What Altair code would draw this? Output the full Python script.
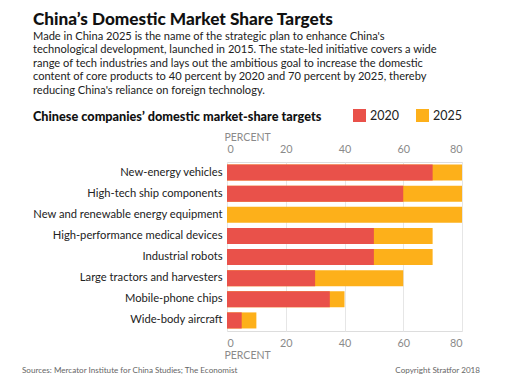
import altair as alt
import pandas as pd

categories = [
    "New-energy vehicles",
    "High-tech ship components",
    "New and renewable energy equipment",
    "High-performance medical devices",
    "Industrial robots",
    "Large tractors and harvesters",
    "Mobile-phone chips",
    "Wide-body aircraft",
]
target_2020 = [70, 60, None, 50, 50, 30, 35, 5]
target_2025 = [80, 80, 80, 70, 70, 60, 40, 10]
years = ["2020", "2025"]
colors = ["#E9514A", "#FDB01A"]
x_ticks = [0, 20, 40, 60, 80]

title_text = "China’s Domestic Market Share Targets"
subtitle_lines = [
    "Made in China 2025 is the name of the strategic plan to enhance China's",
    "technological development, launched in 2015. The state-led initiative covers a wide",
    "range of tech industries and lays out the ambitious goal to increase the domestic",
    "content of core products to 40 percent by 2020 and 70 percent by 2025, thereby",
    "reducing China's reliance on foreign technology.",
]
header_text = "Chinese companies’ domestic market-share targets"
source_text = "Sources: Mercator Institute for China Studies; The Economist"
copyright_text = "Copyright Stratfor 2018"

rows = []
for c, v in zip(categories, target_2025):
    rows.append({"category": c, "year": "2025", "value": v})
for c, v in zip(categories, target_2020):
    if v is not None:
        rows.append({"category": c, "year": "2020", "value": v})
df = pd.DataFrame(rows)

FONT = "Lato"
GREY = "#8a8a8a"
x_scale = alt.Scale(domain=[0, 80], nice=False)
y_enc = alt.Y(
    "category:N",
    sort=categories,
    scale=alt.Scale(paddingInner=0.24, paddingOuter=0.12),
    axis=alt.Axis(
        title=None, ticks=False, domain=False, labelPadding=5,
        labelFontSize=11.2, labelColor="#222222", labelLimit=260, labelFont=FONT,
    ),
)

def x_axis(orient, label_pad, title_pad, grid):
    return alt.Axis(
        orient=orient, values=x_ticks, title="PERCENT", ticks=False, domain=False,
        grid=grid, gridColor="#e6e6e6", gridWidth=1,
        labelFontSize=10.8, labelColor=GREY, labelPadding=label_pad, labelFont=FONT,
        titleFontSize=10.5, titleFontWeight="normal", titleColor=GREY,
        titleAnchor="start", titleAlign="left", titleX=-3, titlePadding=title_pad, titleFont=FONT,
    )

bars = alt.Chart(df).mark_bar().encode(
    y=y_enc,
    x=alt.X("value:Q", stack=None, scale=x_scale, axis=x_axis("bottom", 6, 3, True)),
    color=alt.Color(
        "year:N",
        scale=alt.Scale(domain=years, range=colors),
        legend=alt.Legend(
            title=None, orient="none", direction="horizontal", legendX=126, legendY=-53,
            symbolType="square", symbolSize=169, symbolStrokeWidth=0,
            labelFontSize=12.5, labelColor="#222222", labelFont=FONT, columnPadding=17,
        ),
    ),
)

top_axis = alt.Chart(df).mark_point(opacity=0).encode(
    y=alt.Y("category:N", sort=categories),
    x=alt.X("value:Q", scale=x_scale, axis=x_axis("top", 8, 0.5, False)),
)

one = pd.DataFrame({"k": [0]})

def text_layer(text, x, y, size, weight="normal", color="#222222", align="left", line_height=None):
    kw = dict(text=text, align=align, baseline="alphabetic", font=FONT, fontSize=size,
              fontWeight=weight, color=color)
    if line_height is not None:
        kw["lineHeight"] = line_height
    return alt.Chart(one).mark_text(**kw).encode(x=alt.value(x), y=alt.value(y))

title_l = text_layer(title_text, -194, -137, 17.2, weight=900, color="#111111")
sub_l = text_layer(subtitle_lines, -194, -122.2, 11.1, color="#222222", line_height=13.55)
head_l = text_layer(header_text, -194, -41, 12.7, weight=900, color="#111111")
src_l = text_layer(source_text, -205, 211, 8.1, color="#666666")
copy_l = text_layer(copyright_text, 253, 211, 8.1, color="#666666", align="right")

chart = (
    alt.layer(bars, top_axis, title_l, sub_l, head_l, src_l, copy_l)
    .resolve_axis(x="independent")
    .properties(
        width=235, height=169,
        autosize=alt.AutoSizeParams(type="none"),
        padding={"left": 219, "top": 154, "right": 47, "bottom": 45},
        background="white",
    )
    .configure_view(stroke=None)
    .configure(font=FONT)
)

chart.save("out.html", embed_options={"renderer": "svg", "actions": False})
